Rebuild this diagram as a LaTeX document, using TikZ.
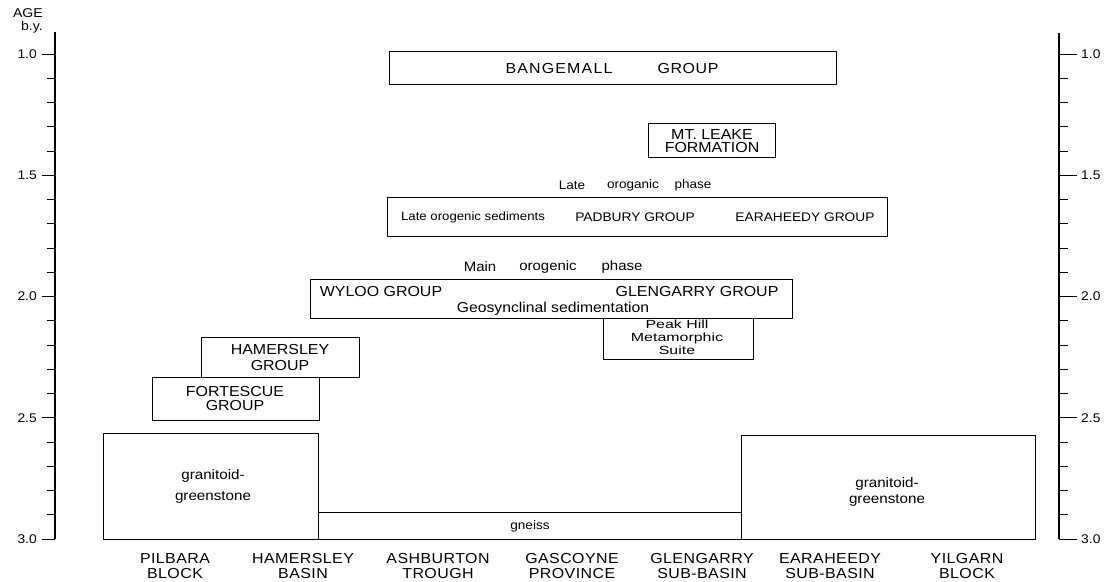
\documentclass[tikz,border=0pt]{standalone}
\usepackage{fontspec}
\setmainfont{Liberation Sans}[FakeStretch=1.1]
\newfontfamily\peakfont{Liberation Sans}[FakeStretch=1.35]
\newcommand\fsz[2]{\fontsize{#1}{#2}\selectfont}
\begin{document}
\begin{tikzpicture}[x=1pt,y=-1pt,
  box/.style={draw, line width=1pt},
  axis/.style={line width=1.2pt},
  tick/.style={line width=1pt},
  lbl/.style={inner sep=0pt, align=center},
  bigcap/.style={lbl, font=\fsz{14.5}{16}},
  midcap/.style={lbl, font=\fsz{12.5}{14}},
  phase/.style={lbl, font=\fsz{12.3}{14}},
  mainph/.style={lbl, font=\fsz{13.6}{15}},
  axnum/.style={lbl, font=\fsz{12.6}{14}},
  peak/.style={lbl, font=\peakfont\fsz{11.8}{12.8}},
  collab/.style={lbl, font=\fsz{14.5}{15}\addfontfeature{LetterSpace=3}}
]
\useasboundingbox (0,0) rectangle (1107,581);

% ---------- axes ----------
\draw[axis] (55,32) -- (55,539);
\draw[axis] (1059,33) -- (1059,539);
\foreach \i in {0,...,20}{
  \pgfmathsetmacro\yy{54+\i*24.25}
  \pgfmathtruncatemacro\m{mod(\i,5)}
  \ifnum\m=0
    \draw[tick] (42,\yy) -- (55,\yy);
    \draw[tick] (1059,\yy) -- (1077,\yy);
  \else
    \draw[tick] (47,\yy) -- (55,\yy);
    \draw[tick] (1059,\yy) -- (1068,\yy);
  \fi
}
\foreach \i/\t in {0/1.0,5/1.5,10/2.0,15/2.5,20/3.0}{
  \pgfmathsetmacro\yy{54+\i*24.25}
  \node[axnum, anchor=east] (ll\i) at (37,\yy) {\t};
  \node[axnum, anchor=west] (rl\i) at (1081,\yy) {\t};
}
\node[lbl, align=right, anchor=east, font=\fsz{12.8}{12.5}] (age) at (43,21) {AGE\\b.y.};

% ---------- boxes ----------
\draw[box] (389,51) rectangle (836,84);
\draw[box] (648,123) rectangle (775,157);
\draw[box] (387,197) rectangle (887,236);
\draw[box] (310,279) rectangle (792,318);
\draw[box] (603,318) rectangle (753,359);
\draw[box] (201,337) rectangle (359,377);
\draw[box] (152,377) rectangle (319,420);
\draw[box] (103,433) rectangle (318,539);
\draw[box] (318,512) rectangle (741,539);
\draw[box] (741,435) rectangle (1035,539);

% ---------- texts ----------
\node[bigcap, font=\fsz{14.5}{16}\addfontfeature{LetterSpace=8}] (bang1) at (559,69) {BANGEMALL};
\node[bigcap, font=\fsz{14.5}{16}\addfontfeature{LetterSpace=4}] (bang2) at (688,69) {GROUP};
\node[bigcap, font=\fsz{14.5}{13}] (leake) at (712,141) {MT. LEAKE\\FORMATION};

\node[phase] (lp1) at (572,185) {Late};
\node[phase] (lp2) at (633,185) {oroganic};
\node[phase] (lp3) at (693,185) {phase};

\node[lbl, font=\fsz{12}{14}] (los) at (473,217) {Late orogenic sediments};
\node[midcap] (padb) at (635,217) {PADBURY GROUP};
\node[midcap] (eara) at (805,217) {EARAHEEDY GROUP};

\node[mainph] (mp1) at (480,267) {Main};
\node[mainph] (mp2) at (548,267) {orogenic};
\node[mainph] (mp3) at (622,267) {phase};

\node[bigcap] (wyloo) at (381,292) {WYLOO GROUP};
\node[bigcap] (glen) at (697,292) {GLENGARRY GROUP};
\node[lbl, font=\fsz{14.3}{16}] (geos) at (553,309) {Geosynclinal sedimentation};

\node[peak] (peakhill) at (677,337) {Peak Hill\\Metamorphic\\Suite};

\node[bigcap, font=\fsz{14.5}{16}] (hamg) at (280,358) {HAMERSLEY\\GROUP};
\node[bigcap, font=\fsz{14.5}{14}] (fort) at (235,399) {FORTESCUE\\GROUP};

\node[lbl, font=\fsz{13.8}{21}] (gg1) at (213,486) {granitoid-\\greenstone};
\node[lbl, font=\fsz{13.8}{16}] (gg2) at (887,492) {granitoid-\\greenstone};
\node[lbl, font=\fsz{12.4}{14}] (gneiss) at (530,526) {gneiss};

% ---------- column labels ----------
\foreach \x/\t [count=\k] in {175/{PILBARA\\BLOCK},303/{HAMERSLEY\\BASIN},438/{ASHBURTON\\TROUGH},572/{GASCOYNE\\PROVINCE},702/{GLENGARRY\\SUB-BASIN},830/{EARAHEEDY\\SUB-BASIN},967/{YILGARN\\BLOCK}}{
  \node[collab] (col\k) at (\x,566) {\t};
}
\end{tikzpicture}
\end{document}
